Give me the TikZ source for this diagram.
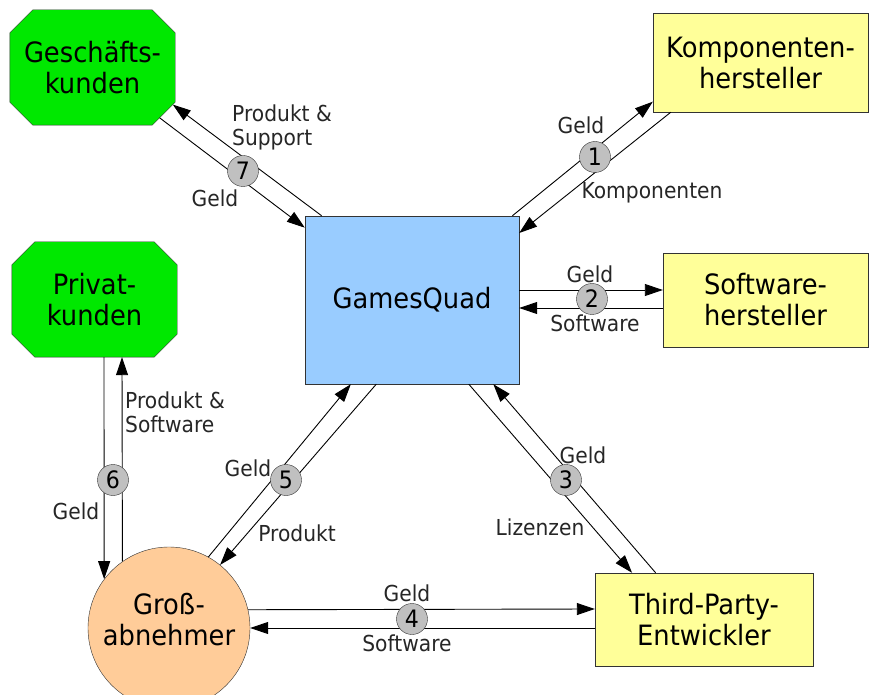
\documentclass[tikz,border=0pt]{standalone}
\usepackage{fontspec}
\setmainfont{DejaVu Sans}[FakeStretch=0.92]
\usepackage{tikz}
\usetikzlibrary{arrows.meta,backgrounds}

\definecolor{kundengruen}{RGB}{0,232,0}
\definecolor{zuliefergelb}{RGB}{255,255,153}
\definecolor{quadblau}{RGB}{153,204,255}
\definecolor{apricot}{RGB}{255,204,153}
\definecolor{nummergrau}{RGB}{192,192,192}
\definecolor{rand}{RGB}{51,51,51}

\begin{document}
\begin{tikzpicture}[x=1pt,y=-1pt,
    kunde/.style={text=black,shape=rectangle,minimum width=165pt,minimum height=115pt,
      inner sep=0pt,align=center,font=\fontsize{28}{31}\selectfont},
    achteck/.style={fill=kundengruen,draw=rand},
    firma/.style={fill=zuliefergelb,draw=rand,text=black,shape=rectangle,
      inner sep=0pt,align=center,font=\fontsize{28}{31}\selectfont},
    nummer/.style={fill=nummergrau,draw=rand,text=black,shape=circle,
      minimum size=31pt,inner sep=0pt,font=\fontsize{24}{24}\selectfont},
    flow/.style={-{Triangle[length=18pt,width=12pt]},line width=0.9pt,draw=black},
    lbl/.style={text=black!85,inner sep=0pt,align=left,
      font=\fontsize{22}{24}\selectfont}]
                    \useasboundingbox (0,0) rectangle (871,695);

                    \node[kunde] (ge) at (92.5,67.5) {Geschäfts-\\kunden};
                    \node[kunde] (pk) at (94.5,299.5) {Privat-\\kunden};
                    \node[firma,minimum width=215pt,minimum height=99pt] (kh) at (760.5,62.5) {Komponenten-\\hersteller};
                    \node[firma,minimum width=205pt,minimum height=94pt] (sh) at (765.5,300) {Software-\\hersteller};
                    \node[firma,minimum width=218pt,minimum height=93pt] (tp) at (704,619.5) {Third-Party-\\Entwickler};
                    \node[firma,fill=quadblau,minimum width=214pt,minimum height=168pt] (gq) at (412,300) {GamesQuad};
                    \node[fill=apricot,draw=rand,text=black,shape=circle,minimum size=162pt,inner sep=0pt,
                          text depth=18pt,align=center,font=\fontsize{28}{31}\selectfont] (ga) at (169,628) {Groß-\\abnehmer};

                    % Achtecke hinter den Kunden
                    \begin{pgfonlayer}{background}
                    \foreach \k in {ge,pk}
                      \draw[achteck] ([xshift=23pt]\k.north west) -- ([xshift=-23pt]\k.north east)
                        -- ([yshift=-23pt]\k.north east) -- ([yshift=23pt]\k.south east)
                        -- ([xshift=-23pt]\k.south east) -- ([xshift=23pt]\k.south west)
                        -- ([yshift=23pt]\k.south west) -- ([yshift=-23pt]\k.north west) -- cycle;
                    \end{pgfonlayer}

                    % Komponentenhersteller
                    \draw[flow] (gq.40.6) -- (kh.200.6);
                    \draw[flow] (kh.209.2) -- (gq.32.8);
                    % Softwarehersteller
                    \draw[flow] ([yshift=10pt]gq.east) -- ([yshift=10pt]sh.west);
                    \draw[flow] ([yshift=-8pt]sh.west) -- ([yshift=-8pt]gq.east);
                    % Third-Party-Entwickler
                    \draw[flow] (gq.-56.3) -- (tp.147.9);
                    \draw[flow] (tp.136.5) -- (gq.-46.4);
                    % Grossabnehmer
                    \draw[flow] (ga.13.6) -- ([yshift=10.5pt]tp.west);
                    \draw[flow] ([yshift=-8.5pt]tp.west) -- (ga.0);
                    \draw[flow] (ga.61.7) -- (gq.-126.4);
                    \draw[flow] (gq.-113.8) -- (ga.51.5);
                    % Privatkunden
                    \draw[flow] ([xshift=9.5pt]pk.south) -- (ga.143.6);
                    \draw[flow] (ga.125.5) -- ([xshift=27.5pt]pk.south);
                    % Geschaeftskunden
                    \draw[flow] (gq.137.6) -- ([shift={(-2.4pt,20.6pt)}]ge.south east);
                    \draw[flow] ([shift={(-15.6pt,7.4pt)}]ge.south east) -- (gq.146.1);

                    \node[nummer] (n1) at (595,157) {1};
                    \node[nummer] (n2) at (592,299) {2};
                    \node[nummer] (n3) at (566,480) {3};
                    \node[nummer] (n4) at (412,619) {4};
                    \node[nummer] (n5) at (286,480) {5};
                    \node[nummer] (n6) at (113,480) {6};
                    \node[nummer] (n7) at (243,171) {7};

                    \node[lbl] (g1) at (581,125) {Geld};
                    \node[lbl] (k1) at (652,193) {Komponenten};
                    \node[lbl] (g2) at (590,274) {Geld};
                    \node[lbl] (s2) at (595,323) {Software};
                    \node[lbl] (g3) at (583,455) {Geld};
                    \node[lbl] (l3) at (540,527) {Lizenzen};
                    \node[lbl] (g4) at (407,593) {Geld};
                    \node[lbl] (s4) at (407,643) {Software};
                    \node[lbl] (g5) at (248,468) {Geld};
                    \node[lbl] (p5) at (297,533) {Produkt};
                    \node[lbl,anchor=west] (p6) at (125,412) {Produkt \&\\Software};
                    \node[lbl] (g6) at (76,511) {Geld};
                    \node[lbl,anchor=west] (p7) at (232,127) {Produkt \&\\Support};
                    \node[lbl] (g7) at (215,198) {Geld};
                 \end{tikzpicture}
\end{document}
